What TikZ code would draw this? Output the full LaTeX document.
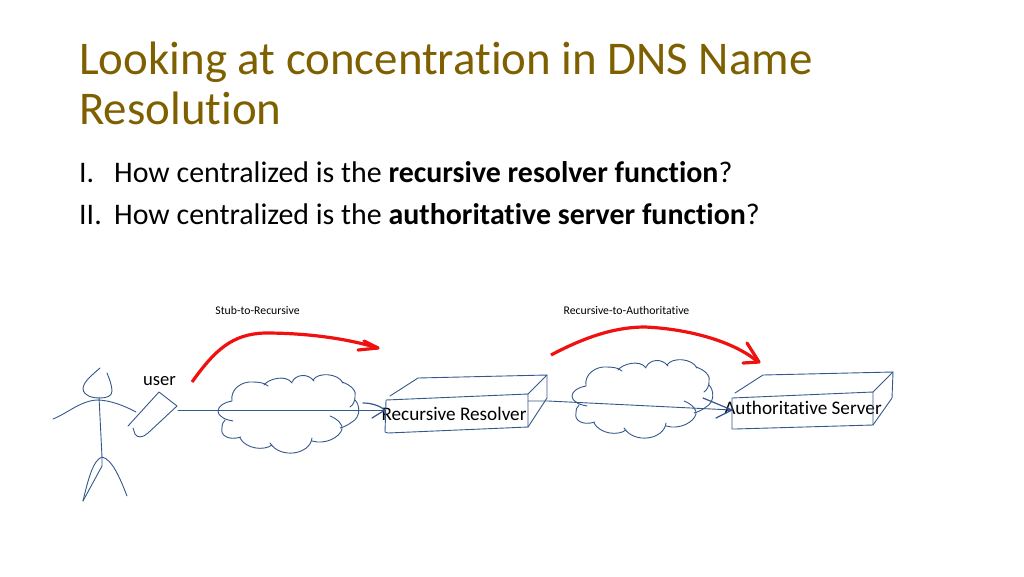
\documentclass[tikz,border=0pt]{standalone}
\usepackage{fontspec}
\setmainfont[Ligatures=CommonOff]{Carlito}
\usetikzlibrary{calc}
\definecolor{titlecol}{HTML}{7F6000}
\definecolor{sketch}{HTML}{34588C}
\definecolor{redline}{HTML}{F01010}
\tikzset{
 sk/.style={draw=sketch,line width=0.9pt,line join=round,line cap=round},
 rd/.style={draw=redline,line width=3.2pt,line join=round,line cap=butt},
 titletext/.style={anchor=base west,inner sep=0,text=titlecol,font=\fontsize{46.9}{56}\selectfont},
 bodytext/.style={anchor=base west,inner sep=0,text=black,font=\fontsize{29.9}{36}\selectfont},
 smalltext/.style={anchor=center,inner sep=0,text=black,font=\fontsize{11.75}{14}\selectfont},
 labeltext/.style={anchor=center,inner sep=0,text=black,font=\fontsize{19.2}{23}\selectfont},
}
\newcommand{\cloudshape}[2]{%
\begin{scope}[shift={(#1,#2)}]
 \draw[sk] (15,46) .. controls (10,45) and (6,44) .. (4,42) .. controls (1,40) and (0,38) .. (0,36) .. controls (0,31) and (7,27) .. (14,26)
   .. controls (12,14) and (24,6) .. (35,7) .. controls (41,7) and (47,8) .. (50,11);
 \draw[sk] (46,10) .. controls (50,4) and (68,-1) .. (74,8);
 \draw[sk] (74,7) .. controls (78,-1) and (90,-2) .. (96,6);
 \draw[sk] (95,5) .. controls (100,-3) and (120,-2) .. (125,8);
 \draw[sk] (124,7) .. controls (133,10) and (139,16) .. (137,22) .. controls (137,26) and (135,30) .. (132,32);
 \draw[sk] (137,25) .. controls (142,30) and (143,42) .. (134,47) .. controls (130,50) and (126,52) .. (122,53);
 \draw[sk] (112,41) .. controls (120,44) and (125,50) .. (124,54) .. controls (122,62) and (108,70) .. (94,66);
 \draw[sk] (94,63) .. controls (92,80) and (62,84) .. (52,68);
 \draw[sk] (54,70) .. controls (46,76) and (28,74) .. (22,63);
 \draw[sk] (23,62) .. controls (10,66) and (2,60) .. (4,53) .. controls (4,49) and (5,47) .. (7,45);
\end{scope}}
\begin{document}
\begin{tikzpicture}[x=1pt,y=-1pt]
\useasboundingbox (0,0) rectangle (1024,576);
\fill[white] (0,0) rectangle (1024,576);

\node[titletext] (title1) at (79,74) {Looking at concentration in DNS Name};
\node[titletext] (title2) at (79,124) {Resolution};
\node[bodytext] (n1) at (79,182) {I.};
\node[bodytext] (q1) at (114,182) {How centralized is the \textbf{recursive resolver function}?};
\node[bodytext] (n2) at (79,224) {II.};
\node[bodytext] (q2) at (114,224) {How centralized is the \textbf{authoritative server function}?};

\node[smalltext] (lab1) at (257.5,310.5) {Stub-to-Recursive};
\node[smalltext] (lab2) at (626.5,310.5) {Recursive-to-Authoritative};
\node[labeltext,font=\fontsize{18.6}{22}\selectfont] (user) at (159.5,381.5) {user};

% stick figure
\draw[sk] (100,368) .. controls (92,375) and (83,382) .. (83,389) .. controls (84,396) and (92,398) .. (100,398) .. controls (107,398) and (112,396) .. (112,391) .. controls (112,385) and (109,378) .. (107,373);
\draw[sk] (99,397) -- (102,457);
\draw[sk] (53,419) .. controls (68,413) and (80,401) .. (97,400) .. controls (110,400) and (125,406) .. (136,412);
\draw[sk] (83,501) .. controls (88,480) and (93,460) .. (102,457) .. controls (112,459) and (120,478) .. (127,496);
\draw[sk] (83,501) -- (102,466) -- (102,457);

% phone
\draw[sk] (128,426) -- (159,392) -- (177,406) -- (148,433) .. controls (143,438) and (137,438) .. (135,434) -- (133,428);

% clouds
\cloudshape{218}{375}
\cloudshape{572}{360}

% boxes
\node[labeltext] (rr) at (454,414) {Recursive Resolver};
\node[labeltext] (as) at (803,407.5) {Authoritative Server};
\draw[sk] (386,400) -- (528,394) -- (528,427) -- (388,433) -- (385,432) -- cycle;
\draw[sk] (390,396) -- (418,378) -- (547,375) -- (528,394);
\draw[sk] (547,375) -- (547,398) -- (528,427);
\draw[sk] (732,398) -- (873,392) -- (873,425) -- (735,429) -- (732,429) -- cycle;
\draw[sk] (735,393) -- (763,375) -- (893,372) -- (873,392);
\draw[sk] (893,372) -- (892,398) -- (873,425);

% connectors
\coordinate (uout) at (178,410);
\coordinate (rin) at (385,410);
\coordinate (rout) at (528,401);
\coordinate (rmid) at (548,401);
\coordinate (ain) at (732,410);
\draw[sk] (uout) -- (rin);
\draw[sk,line width=1.2pt] (363,403) .. controls (372,403) and (380,406) .. (rin) -- (372,418);
\draw[sk] (rout) -- (rmid) -- (ain);
\draw[sk,line width=1.2pt] (703,398) -- (ain) -- (716,418);

% red arrows
\coordinate (a1) at (192,382);
\coordinate (b1) at (378,348);
\coordinate (a2) at (551,355);
\coordinate (b2) at (758,362);
\draw[rd] (a1) .. controls (215,350) and (232,334) .. (265,333) .. controls (305,333) and (345,338) .. (b1);
\draw[rd,line cap=round] (364,341) -- (b1) -- (358,350);
\draw[rd] (a2) .. controls (585,337) and (615,327) .. (645,327) .. controls (690,329) and (735,342) .. (b2);
\draw[rd,line cap=round] (747,343) -- (759,362) -- (743,363);
\end{tikzpicture}
\end{document}
